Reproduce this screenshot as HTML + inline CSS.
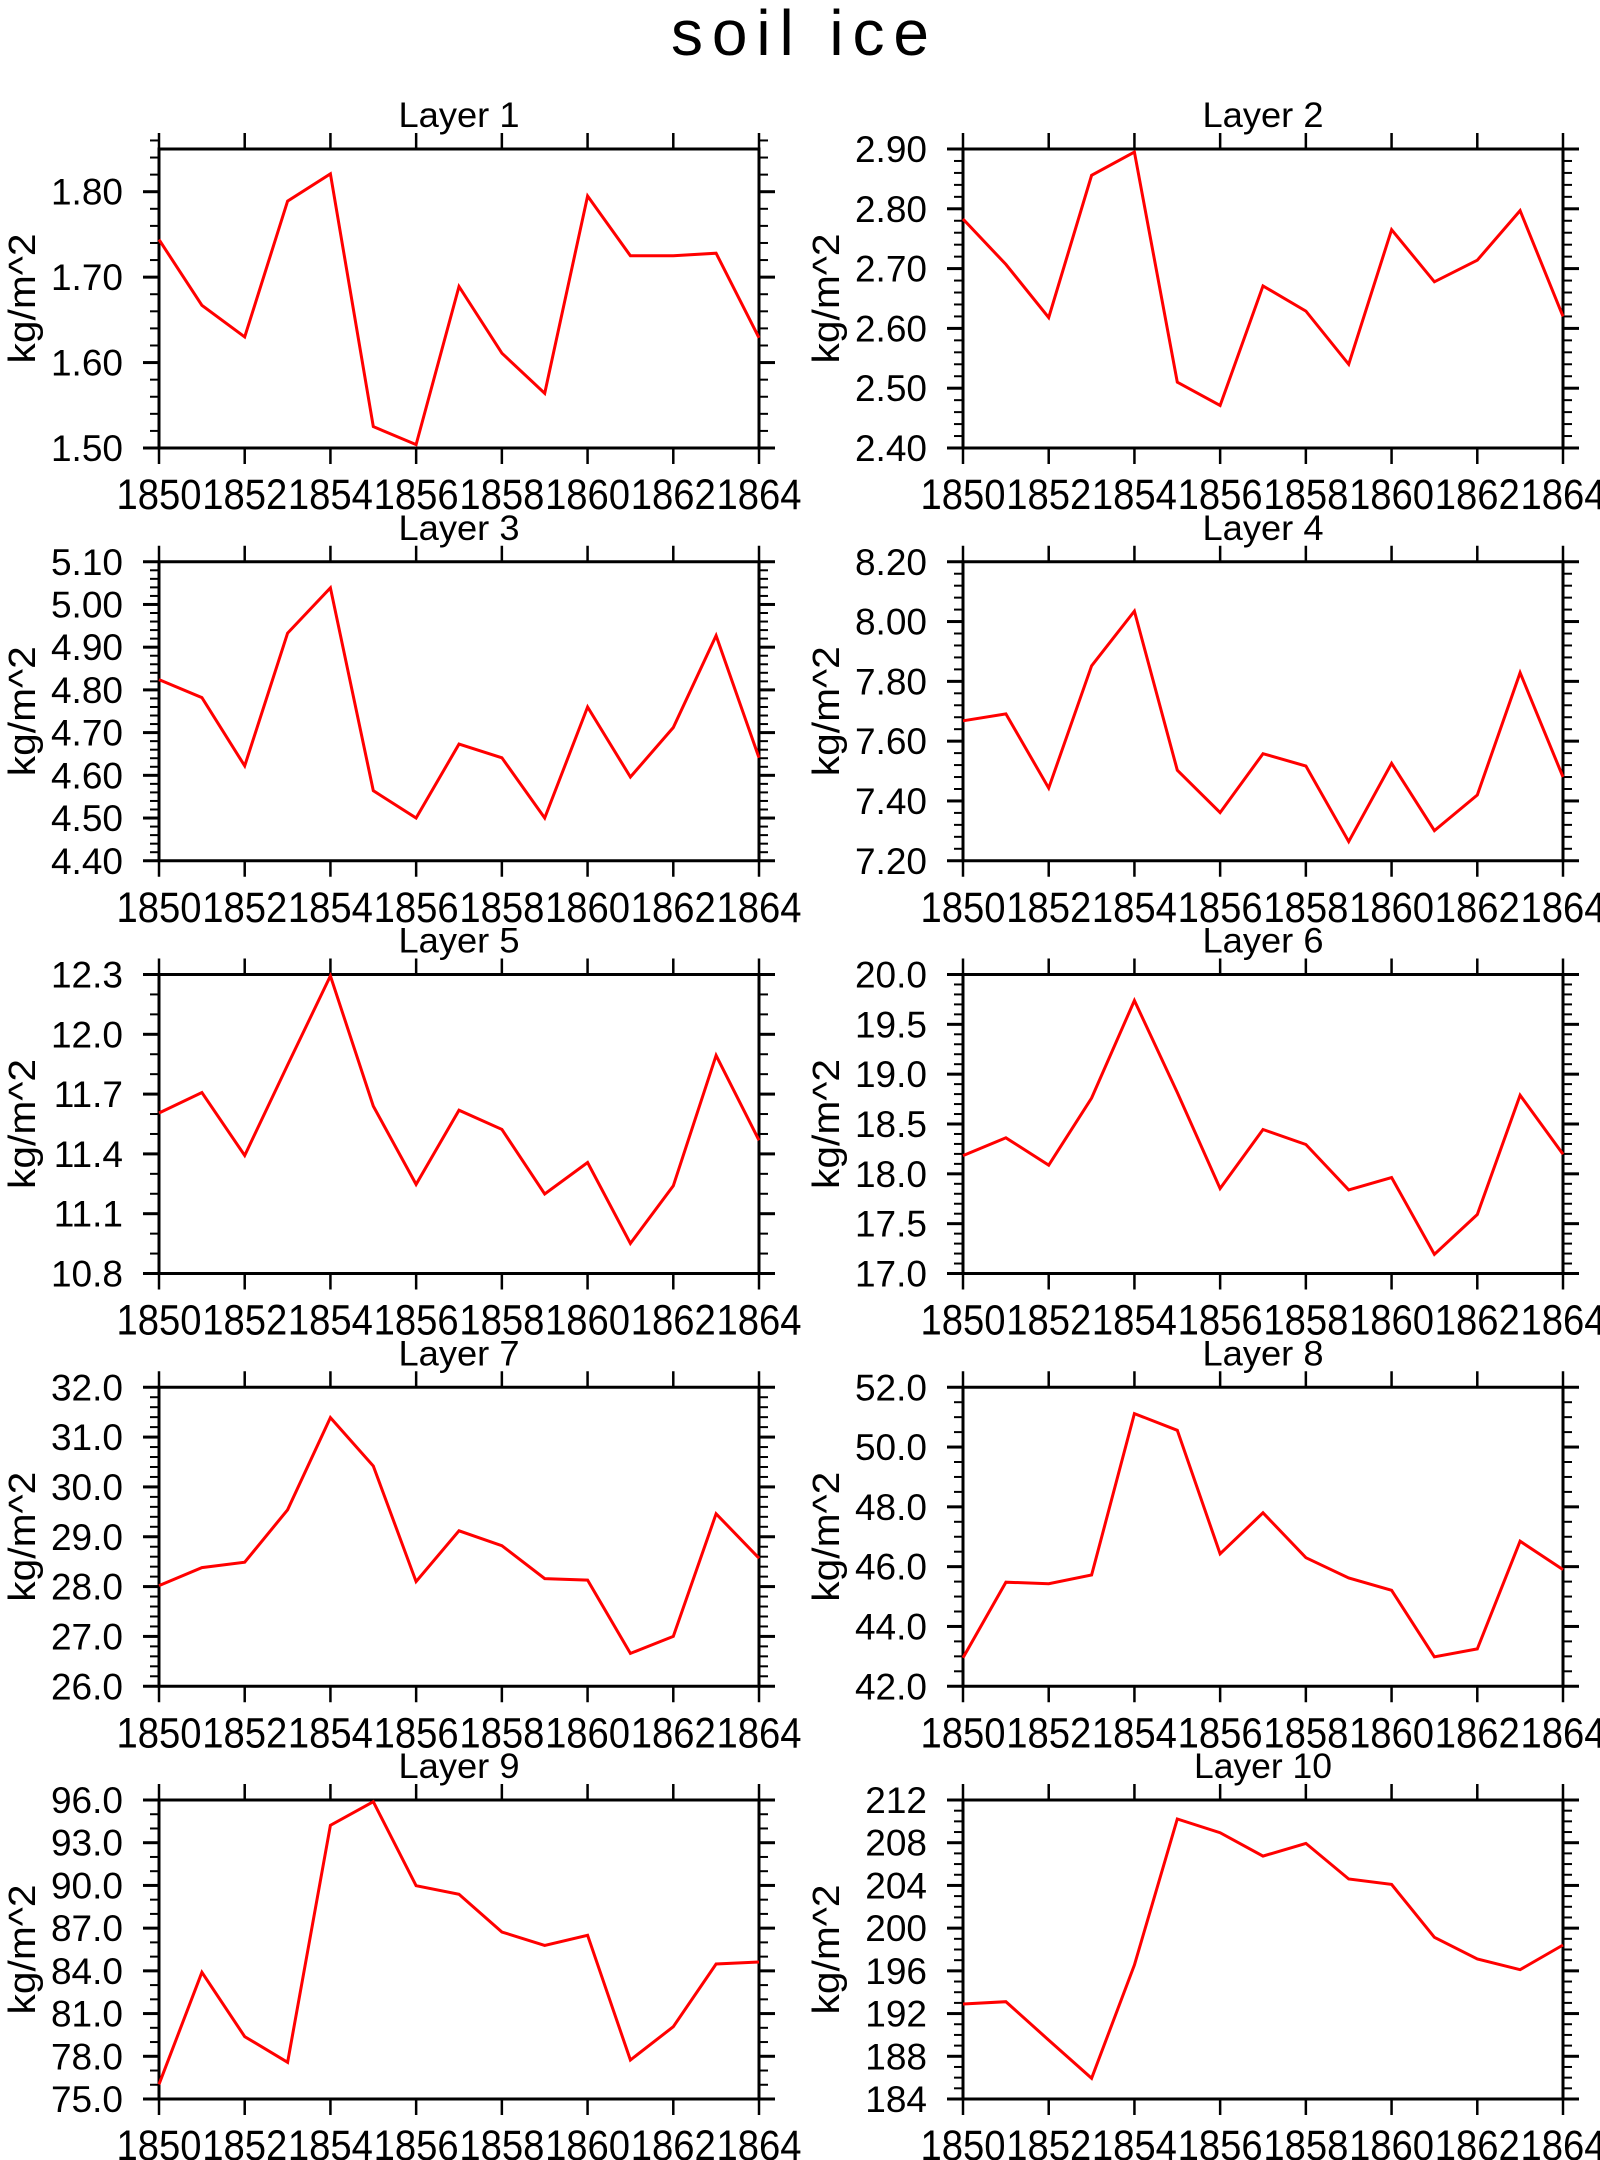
<!DOCTYPE html>
<html><head><meta charset="utf-8"><style>
html,body{margin:0;padding:0;background:#fff;}
svg{display:block;font-family:"Liberation Sans",sans-serif;}
</style></head><body>
<svg id="chart" width="1600" height="2160" viewBox="0 0 1600 2160" xmlns="http://www.w3.org/2000/svg">
<text x="800" y="55" font-size="64" text-anchor="middle" fill="#000" textLength="258" lengthAdjust="spacing">soil ice</text>
</svg>
<script>
const years = [1850,1851,1852,1853,1854,1855,1856,1857,1858,1859,1860,1861,1862,1863,1864];
const xTickLabels = ["1850","1852","1854","1856","1858","1860","1862","1864"];
const panelTitles = ["Layer 1","Layer 2","Layer 3","Layer 4","Layer 5","Layer 6","Layer 7","Layer 8","Layer 9","Layer 10"];
const layer1 = [1.744,1.667,1.630,1.789,1.821,1.525,1.504,1.689,1.611,1.564,1.795,1.725,1.725,1.728,1.629];
const layer2 = [2.783,2.707,2.618,2.856,2.895,2.510,2.471,2.671,2.629,2.540,2.765,2.678,2.714,2.797,2.620];
const layer3 = [4.824,4.782,4.622,4.933,5.039,4.564,4.500,4.673,4.641,4.500,4.760,4.596,4.712,4.927,4.641];
const layer4 = [7.668,7.691,7.443,7.852,8.035,7.503,7.361,7.558,7.517,7.264,7.526,7.301,7.420,7.829,7.480];
const layer5 = [11.605,11.708,11.392,11.846,12.293,11.640,11.247,11.619,11.523,11.199,11.357,10.951,11.240,11.894,11.468];
const layer6 = [18.183,18.362,18.087,18.761,19.739,18.816,17.853,18.445,18.294,17.839,17.963,17.193,17.592,18.789,18.197];
const layer7 = [28.02,28.38,28.49,29.54,31.39,30.42,28.10,29.12,28.82,28.16,28.13,26.66,27.00,29.46,28.57];
const layer8 = [42.95,45.48,45.43,45.72,51.12,50.56,46.43,47.80,46.30,45.62,45.21,42.98,43.25,46.85,45.90];
const layer9 = [76.03,83.90,79.38,77.58,94.22,95.88,89.98,89.38,86.73,85.79,86.50,77.74,80.08,84.48,84.62];
const layer10 = [192.90,193.11,189.52,185.94,196.55,210.22,208.94,206.75,207.94,204.60,204.10,199.14,197.11,196.11,198.42];
const yMins = [1.50,2.40,4.40,7.20,10.8,17.0,26.0,42.0,75.0,184];
const yMaxs = [1.85,2.90,5.10,8.20,12.3,20.0,32.0,52.0,96.0,212];
const yMajorSteps = [0.1,0.1,0.1,0.2,0.3,0.5,1.0,2.0,3.0,4];
const yMinorSteps = [0.02,0.02,0.02,0.04,0.1,0.1,0.2,0.5,1.0,1];
const yDecimals = [2,2,2,2,1,1,1,1,1,0];
const series = [layer1,layer2,layer3,layer4,layer5,layer6,layer7,layer8,layer9,layer10];

const NS = "http://www.w3.org/2000/svg";
const svg = document.getElementById("chart");
function mk(tag, attrs, parent){
  const e = document.createElementNS(NS, tag);
  for (const k in attrs) e.setAttribute(k, attrs[k]);
  parent.appendChild(e);
  return e;
}
const W = 600, H = 299;
for (let p = 0; p < 10; p++) {
  const col = p % 2, row = Math.floor(p / 2);
  const L = col === 0 ? 159 : 963;
  const T = 149 + row * 412.75;
  const g = mk("g", {}, svg);
  
  
  const x0 = years[0], x1 = years[years.length - 1];
  const xs = v => L + (v - x0) / (x1 - x0) * W;
  const ys = v => T + H - (v - yMins[p]) / (yMaxs[p] - yMins[p]) * H;

  const t = mk("text", {x: L + W / 2, y: T - 22, "font-size": 35, "text-anchor": "middle", fill: "#000",
    textLength: p === 9 ? 138 : 121, lengthAdjust: "spacingAndGlyphs"}, g);
  
  
  t.textContent = panelTitles[p];

  const at = mk("text", {x: 0, y: 0, "font-size": 38, "text-anchor": "middle", fill: "#000",
    textLength: 130, lengthAdjust: "spacingAndGlyphs",
    transform: "translate(" + (L - 124) + "," + (T + H / 2) + ") rotate(-90)"}, g);
  
  
  at.textContent = "kg/m^2";

  const nMin = Math.round((yMaxs[p] - yMins[p]) / yMinorSteps[p]);
  for (let i = 0; i <= nMin; i++) {
    const v = yMins[p] + i * yMinorSteps[p];
    const y = ys(v);
    const m1 = mk("line", {x1: L - 9, x2: L, y1: y, y2: y, stroke: "#000", "stroke-width": 2}, g);
    
    
    const m2 = mk("line", {x1: L + W, x2: L + W + 9, y1: y, y2: y, stroke: "#000", "stroke-width": 2}, g);
    
    
  }
  const nMaj = Math.floor((yMaxs[p] - yMins[p]) / yMajorSteps[p] + 1e-6);
  for (let i = 0; i <= nMaj; i++) {
    const v = yMins[p] + i * yMajorSteps[p];
    const y = ys(v);
    const a = mk("line", {x1: L - 16, x2: L, y1: y, y2: y, stroke: "#000", "stroke-width": 3}, g);
    
    
    const b = mk("line", {x1: L + W, x2: L + W + 16, y1: y, y2: y, stroke: "#000", "stroke-width": 3}, g);
    
    
    const lb = mk("text", {x: L - 36, y: y + 13, "font-size": 37, "text-anchor": "end", fill: "#000"}, g);
    
    
    lb.textContent = v.toFixed(yDecimals[p]);
  }
  for (let i = 0; i < xTickLabels.length; i++) {
    const x = xs(+xTickLabels[i]);
    const a = mk("line", {x1: x, x2: x, y1: T - 16, y2: T, stroke: "#000", "stroke-width": 2.5}, g);
    
    
    const b = mk("line", {x1: x, x2: x, y1: T + H, y2: T + H + 16, stroke: "#000", "stroke-width": 2.5}, g);
    
    
    const lb = mk("text", {x: x, y: T + H + 61, "font-size": 43, "text-anchor": "middle", fill: "#000",
      textLength: 85, lengthAdjust: "spacingAndGlyphs"}, g);
    
    
    lb.textContent = xTickLabels[i];
  }
  const fr = mk("rect", {x: L, y: T, width: W, height: H, fill: "none", stroke: "#000", "stroke-width": 3}, g);
  
  
  const pts = series[p].map((v, i) => xs(years[i]).toFixed(1) + "," + ys(v).toFixed(1)).join(" ");
  const pl = mk("polyline", {points: pts, fill: "none", stroke: "#ff0000", "stroke-width": 3, "stroke-linejoin": "miter"}, g);
  
  
}
</script>
</body></html>
